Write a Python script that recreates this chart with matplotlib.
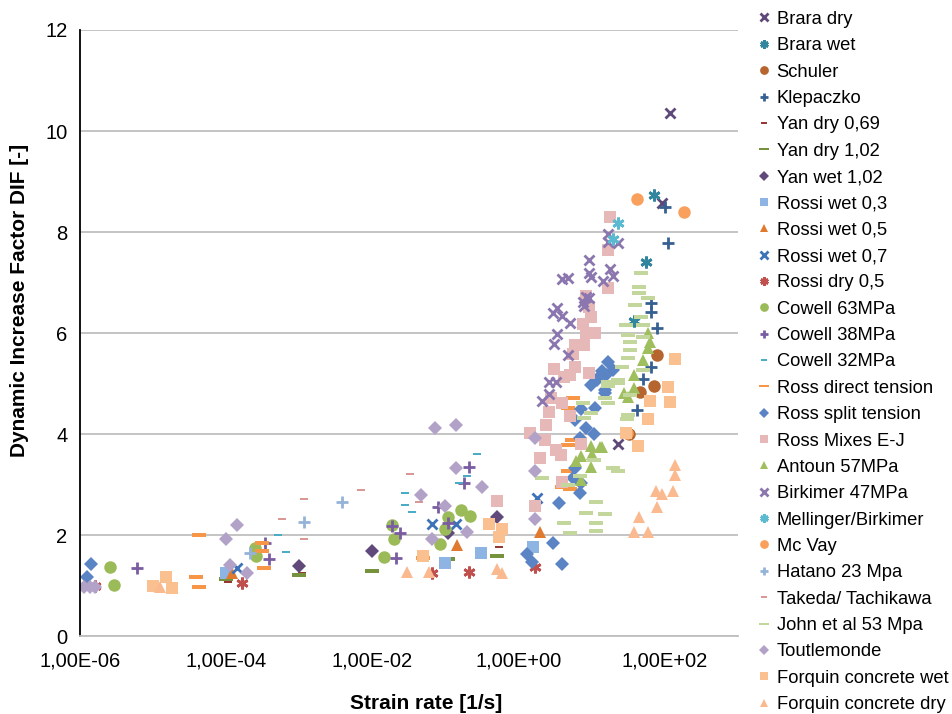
import matplotlib.pyplot as plt
from matplotlib.ticker import FixedLocator, NullLocator

plt.rcParams['font.family'] = ['Liberation Sans', 'DejaVu Sans']

# Data (strain rate [1/s], DIF [-])
brara_dry_x = [1.2e2, 9.3e1, 2.3e1]
brara_dry_y = [10.36, 8.57, 3.80]
brara_wet_x = [7.2e1, 5.5e1, 3.8e1]
brara_wet_y = [8.73, 7.41, 6.24]
schuler_x = [79, 72, 46, 33]
schuler_y = [5.56, 4.95, 4.83, 4.00]
klepaczko_x = [100, 110, 66, 66, 79, 66, 51, 42]
klepaczko_y = [8.50, 7.78, 6.59, 6.42, 6.10, 5.33, 5.09, 4.48]
yan_dry069_x = [1.07e-4, 1.1e-3, 0.55]
yan_dry069_y = [1.07, 1.25, 1.76]
yan_dry102_x = [1.0e-4, 1.0e-3, 1.0e-2, 0.107, 0.51]
yan_dry102_y = [1.13, 1.21, 1.29, 1.52, 1.58]
yan_wet102_x = [1.0e-3, 1.0e-2, 0.107, 0.51]
yan_wet102_y = [1.39, 1.68, 2.04, 2.36]
rossi_wet03_x = [9.8e-5, 0.1, 0.31, 1.6]
rossi_wet03_y = [1.25, 1.45, 1.64, 1.76]
rossi_wet05_x = [1.2e-4, 0.145, 1.95]
rossi_wet05_y = [1.25, 1.80, 2.06]
rossi_wet07_x = [1.4e-4, 0.066, 0.138, 1.8]
rossi_wet07_y = [1.35, 2.22, 2.22, 2.73]
rossi_dry05_x = [1.6e-6, 1.66e-4, 0.066, 0.21, 1.66]
rossi_dry05_y = [0.99, 1.05, 1.25, 1.27, 1.37]
cowell63_x = [2.6e-6, 2.95e-6, 2.5e-4, 2.55e-4, 0.0186, 0.02, 0.0145, 0.085, 0.1, 0.11, 0.166, 0.22]
cowell63_y = [1.37, 1.01, 1.74, 1.58, 2.20, 1.92, 1.56, 1.82, 2.12, 2.36, 2.49, 2.38]
cowell38_x = [6.0e-6, 3.4e-4, 3.8e-4, 0.0186, 0.024, 0.021, 0.079, 0.11, 0.21, 0.178]
cowell38_y = [1.35, 1.84, 1.52, 2.18, 2.04, 1.54, 2.55, 2.24, 3.35, 3.03]
cowell32_x = [5.1e-4, 6.5e-4, 0.028, 0.028, 0.035, 0.275, 0.195, 0.155]
cowell32_y = [2.00, 1.66, 2.83, 2.59, 2.46, 3.60, 3.17, 3.03]
ross_direct_x = [4.2e-5, 3.9e-5, 4.2e-5, 3.1e-4, 3.1e-4, 3.3e-4, 0.05,
                 5.6, 4.7, 5.4, 4.7, 4.8, 4.0, 5.1]
ross_direct_y = [2.00, 1.17, 0.97, 1.84, 1.68, 1.35, 1.55,
                 4.71, 4.51, 3.88, 3.78, 3.27, 2.95, 2.91]
ross_split_x = [1.4e-6, 1.26e-6, 1.29, 1.55, 2.95, 3.9, 3.6, 6.9, 5.6, 5.9, 7.1, 6.9, 8.3,
                10.7, 6.0, 7.2, 11, 12, 16, 9.8, 15.5, 16.6, 19.5, 12, 15.5, 14]
ross_split_y = [1.43, 1.17, 1.62, 1.47, 1.84, 1.43, 2.63, 2.83, 3.13, 3.33, 3.03, 3.92, 4.12,
                4.00, 4.28, 4.50, 4.51, 5.07, 5.17, 4.97, 4.81, 5.43, 5.27, 5.09, 4.87, 5.25]
ross_mixes_x = [0.51, 1.7, 1.45, 2.3, 3.3, 3.8, 1.95, 4.0, 7.1, 5.1, 4.0, 18, 17, 16.6, 8.5,
                9.3, 9.8, 7.6, 11.3, 8.3, 7.8, 6.0, 5.6, 6.0, 3.1, 4.2, 5.1, 9.1, 2.75, 2.6, 2.35]
ross_mixes_y = [2.67, 2.57, 4.02, 3.88, 3.68, 3.58, 3.52, 3.05, 3.80, 4.36, 4.61, 8.30, 7.64,
                6.89, 6.73, 6.51, 6.32, 6.18, 6.00, 6.00, 5.76, 5.76, 5.58, 5.33, 5.29, 5.13,
                5.17, 5.21, 4.71, 4.44, 4.18]
antoun_x = [6.2, 7.2, 10, 13, 10.2, 10, 7.2, 60, 64, 59, 50, 38, 28, 38, 32, 14]
antoun_y = [3.47, 3.56, 3.76, 3.74, 3.60, 3.35, 3.09, 5.70, 5.82, 6.00, 5.47, 5.17, 4.81,
            4.91, 4.73, 3.74]
birkimer_x = [2.6, 3.3, 2.6, 2.1, 17, 16.6, 9.3, 9.1, 10, 18, 19.5, 14.5, 4.0, 4.8, 8.3,
              7.6, 7.8, 9.3, 3.4, 3.0, 3.9, 5.1, 3.4, 3.1, 4.7, 23.4]
birkimer_y = [5.03, 5.03, 4.79, 4.65, 7.96, 7.80, 7.45, 7.19, 7.11, 7.27, 7.13, 7.03, 7.07,
              7.09, 6.71, 6.61, 6.53, 6.69, 6.49, 6.40, 6.34, 6.20, 5.98, 5.78, 5.56, 7.78]
mellinger_x = [23.4, 20]
mellinger_y = [8.18, 7.86]
mcvay_x = [42, 182, 31]
mcvay_y = [8.65, 8.40, 4.02]
hatano_x = [2.1e-4, 1.17e-3, 3.9e-3]
hatano_y = [1.64, 2.26, 2.65]
takeda_x = [5.9e-4, 1.17e-3, 1.17e-3, 6.9e-3, 0.033, 0.043]
takeda_y = [2.32, 2.71, 1.92, 2.89, 3.21, 2.65]
john_x = [2.1, 4.2, 5.1, 8.5, 11.7, 15.5, 11.7, 11.7, 8.0, 9.8, 7.6, 16.6, 17, 23, 10.7, 20,
          23.4, 6.9, 4.7, 48, 44, 44, 59, 40, 47, 29.5, 51, 32, 50, 34, 34, 32, 26.5, 50,
          23.4, 16.6, 15.5, 34, 32, 31]
john_y = [3.13, 2.24, 2.04, 2.44, 2.65, 2.42, 2.24, 2.08, 4.32, 4.42, 4.61, 5.03, 4.61, 5.01,
          3.49, 3.33, 3.27, 3.17, 2.99, 7.19, 6.91, 6.79, 6.69, 6.55, 6.32, 6.16, 6.16, 5.96,
          5.92, 5.82, 5.66, 5.50, 5.33, 5.27, 5.07, 4.95, 4.71, 4.77, 4.38, 4.30]
toutlemonde_x = [1.13e-6, 1.37e-6, 1.6e-6, 1.0e-4, 1.4e-4, 1.12e-4, 1.9e-4, 0.071, 0.138,
                 0.138, 0.32, 0.047, 0.1, 0.066, 0.2, 1.7, 1.7, 1.7]
toutlemonde_y = [0.97, 0.97, 0.97, 1.92, 2.20, 1.41, 1.25, 4.12, 4.18, 3.33, 2.95, 2.79,
                 2.57, 1.92, 2.06, 3.92, 3.27, 2.32]
forquin_wet_x = [1.0e-5, 1.5e-5, 1.8e-5, 0.05, 0.39, 0.59, 0.55, 141, 112, 120, 64, 60, 29.5, 43]
forquin_wet_y = [0.99, 1.17, 0.95, 1.58, 2.22, 2.12, 1.96, 5.49, 4.93, 4.63, 4.65, 4.30, 4.02, 3.76]
forquin_dry_x = [1.26e-5, 0.03, 0.059, 0.51, 0.59, 141, 141, 129, 76, 91, 78, 44, 38, 59]
forquin_dry_y = [0.97, 1.27, 1.27, 1.33, 1.25, 3.39, 3.19, 2.87, 2.87, 2.81, 2.55, 2.36, 2.06, 2.06]

xticks = [1e-6, 1e-4, 1e-2, 1e0, 1e2]
xtick_labels = ['1,00E-06', '1,00E-04', '1,00E-02', '1,00E+00', '1,00E+02']
yticks = [0, 2, 4, 6, 8, 10, 12]

dash = [(-1, -0.32), (1, -0.32), (1, 0.32), (-1, 0.32)]
star = (6, 2, 0)

series = [
    ('Brara dry', brara_dry_x, brara_dry_y, 'x', '#5F497A', 7.5),
    ('Brara wet', brara_wet_x, brara_wet_y, star, '#31859C', 8.5),
    ('Schuler', schuler_x, schuler_y, 'o', '#B6652E', 9),
    ('Klepaczko', klepaczko_x, klepaczko_y, '+', '#376092', 8.5),
    ('Yan dry 0,69', yan_dry069_x, yan_dry069_y, dash, '#953735', 6),
    ('Yan dry 1,02', yan_dry102_x, yan_dry102_y, dash, '#76923C', 9.5),
    ('Yan wet 1,02', yan_wet102_x, yan_wet102_y, 'D', '#604A7B', 7.5),
    ('Rossi wet 0,3', rossi_wet03_x, rossi_wet03_y, 's', '#8DB4E2', 9),
    ('Rossi wet 0,5', rossi_wet05_x, rossi_wet05_y, '^', '#E07A2E', 9),
    ('Rossi wet 0,7', rossi_wet07_x, rossi_wet07_y, 'x', '#3E72B8', 7.5),
    ('Rossi dry 0,5', rossi_dry05_x, rossi_dry05_y, star, '#C0504D', 8.5),
    ('Cowell 63MPa', cowell63_x, cowell63_y, 'o', '#9BBB59', 9),
    ('Cowell 38MPa', cowell38_x, cowell38_y, '+', '#7A5CA3', 8.5),
    ('Cowell 32MPa', cowell32_x, cowell32_y, dash, '#4BACC6', 6),
    ('Ross direct tension', ross_direct_x, ross_direct_y, dash, '#F79646', 9.5),
    ('Ross split tension', ross_split_x, ross_split_y, 'D', '#5A84C4', 7.5),
    ('Ross Mixes E-J', ross_mixes_x, ross_mixes_y, 's', '#E6B9B8', 9),
    ('Antoun 57MPa', antoun_x, antoun_y, '^', '#9FBF5E', 9),
    ('Birkimer 47MPa', birkimer_x, birkimer_y, 'x', '#8B76AF', 7.5),
    ('Mellinger/Birkimer', mellinger_x, mellinger_y, star, '#5BBAD0', 8.5),
    ('Mc Vay', mcvay_x, mcvay_y, 'o', '#F9A05D', 9),
    ('Hatano 23 Mpa', hatano_x, hatano_y, '+', '#95B3D7', 8.5),
    ('Takeda/ Tachikawa', takeda_x, takeda_y, dash, '#D99795', 6),
    ('John et al 53 Mpa', john_x, john_y, dash, '#C3D69B', 9.5),
    ('Toutlemonde', toutlemonde_x, toutlemonde_y, 'D', '#B3A2C7', 7.5),
    ('Forquin concrete wet', forquin_wet_x, forquin_wet_y, 's', '#FAC090', 9),
    ('Forquin concrete dry', forquin_dry_x, forquin_dry_y, '^', '#FBB98F', 9),
]

fig = plt.figure(figsize=(9.53, 7.14), dpi=100)
ax = fig.add_axes([0.084, 0.109, 0.69, 0.849])

for name, xs, ys, mk, col, ms in series:
    line_mk = mk in ('x', '+') or mk == star
    ax.plot(xs, ys, linestyle='none', marker=mk, markersize=ms, color=col,
            markeredgecolor=col, markeredgewidth=2 if line_mk else 0, label=name)

ax.set_xscale('log')
ax.set_xlim(1e-6, 1e3)
ax.set_ylim(0, 12)
ax.xaxis.set_major_locator(FixedLocator(xticks))
ax.xaxis.set_minor_locator(NullLocator())
ax.set_xticks(xticks)
ax.set_xticklabels(xtick_labels)
ax.set_yticks(yticks)
ax.tick_params(axis='both', length=0, labelsize=14.5, colors='#000000')
ax.tick_params(axis='x', pad=11)
ax.tick_params(axis='y', pad=9)
ax.grid(axis='y', color='#BFBFBF', linewidth=1.3)
ax.set_axisbelow(True)
for s in ['top', 'right']:
    ax.spines[s].set_visible(False)
ax.spines['bottom'].set_color('#BFBFBF')
ax.spines['bottom'].set_linewidth(1.3)
ax.spines['left'].set_color('#000000')
ax.spines['left'].set_linewidth(1.3)

ax.set_xlabel('Strain rate [1/s]', fontsize=15, fontweight='bold')
ax.set_ylabel('Dynamic Increase Factor DIF [-]', fontsize=15, fontweight='bold')
ax.xaxis.set_label_coords(0.526, -0.095)
ax.yaxis.set_label_coords(-0.078, 0.554)

fig.legend(loc='upper left', bbox_to_anchor=(0.789, 0.995), frameon=False, fontsize=13.2,
           handlelength=0.5, handletextpad=0.45, labelspacing=0.51, markerscale=0.7,
           borderaxespad=0)

fig.savefig('out.png', dpi=100)
